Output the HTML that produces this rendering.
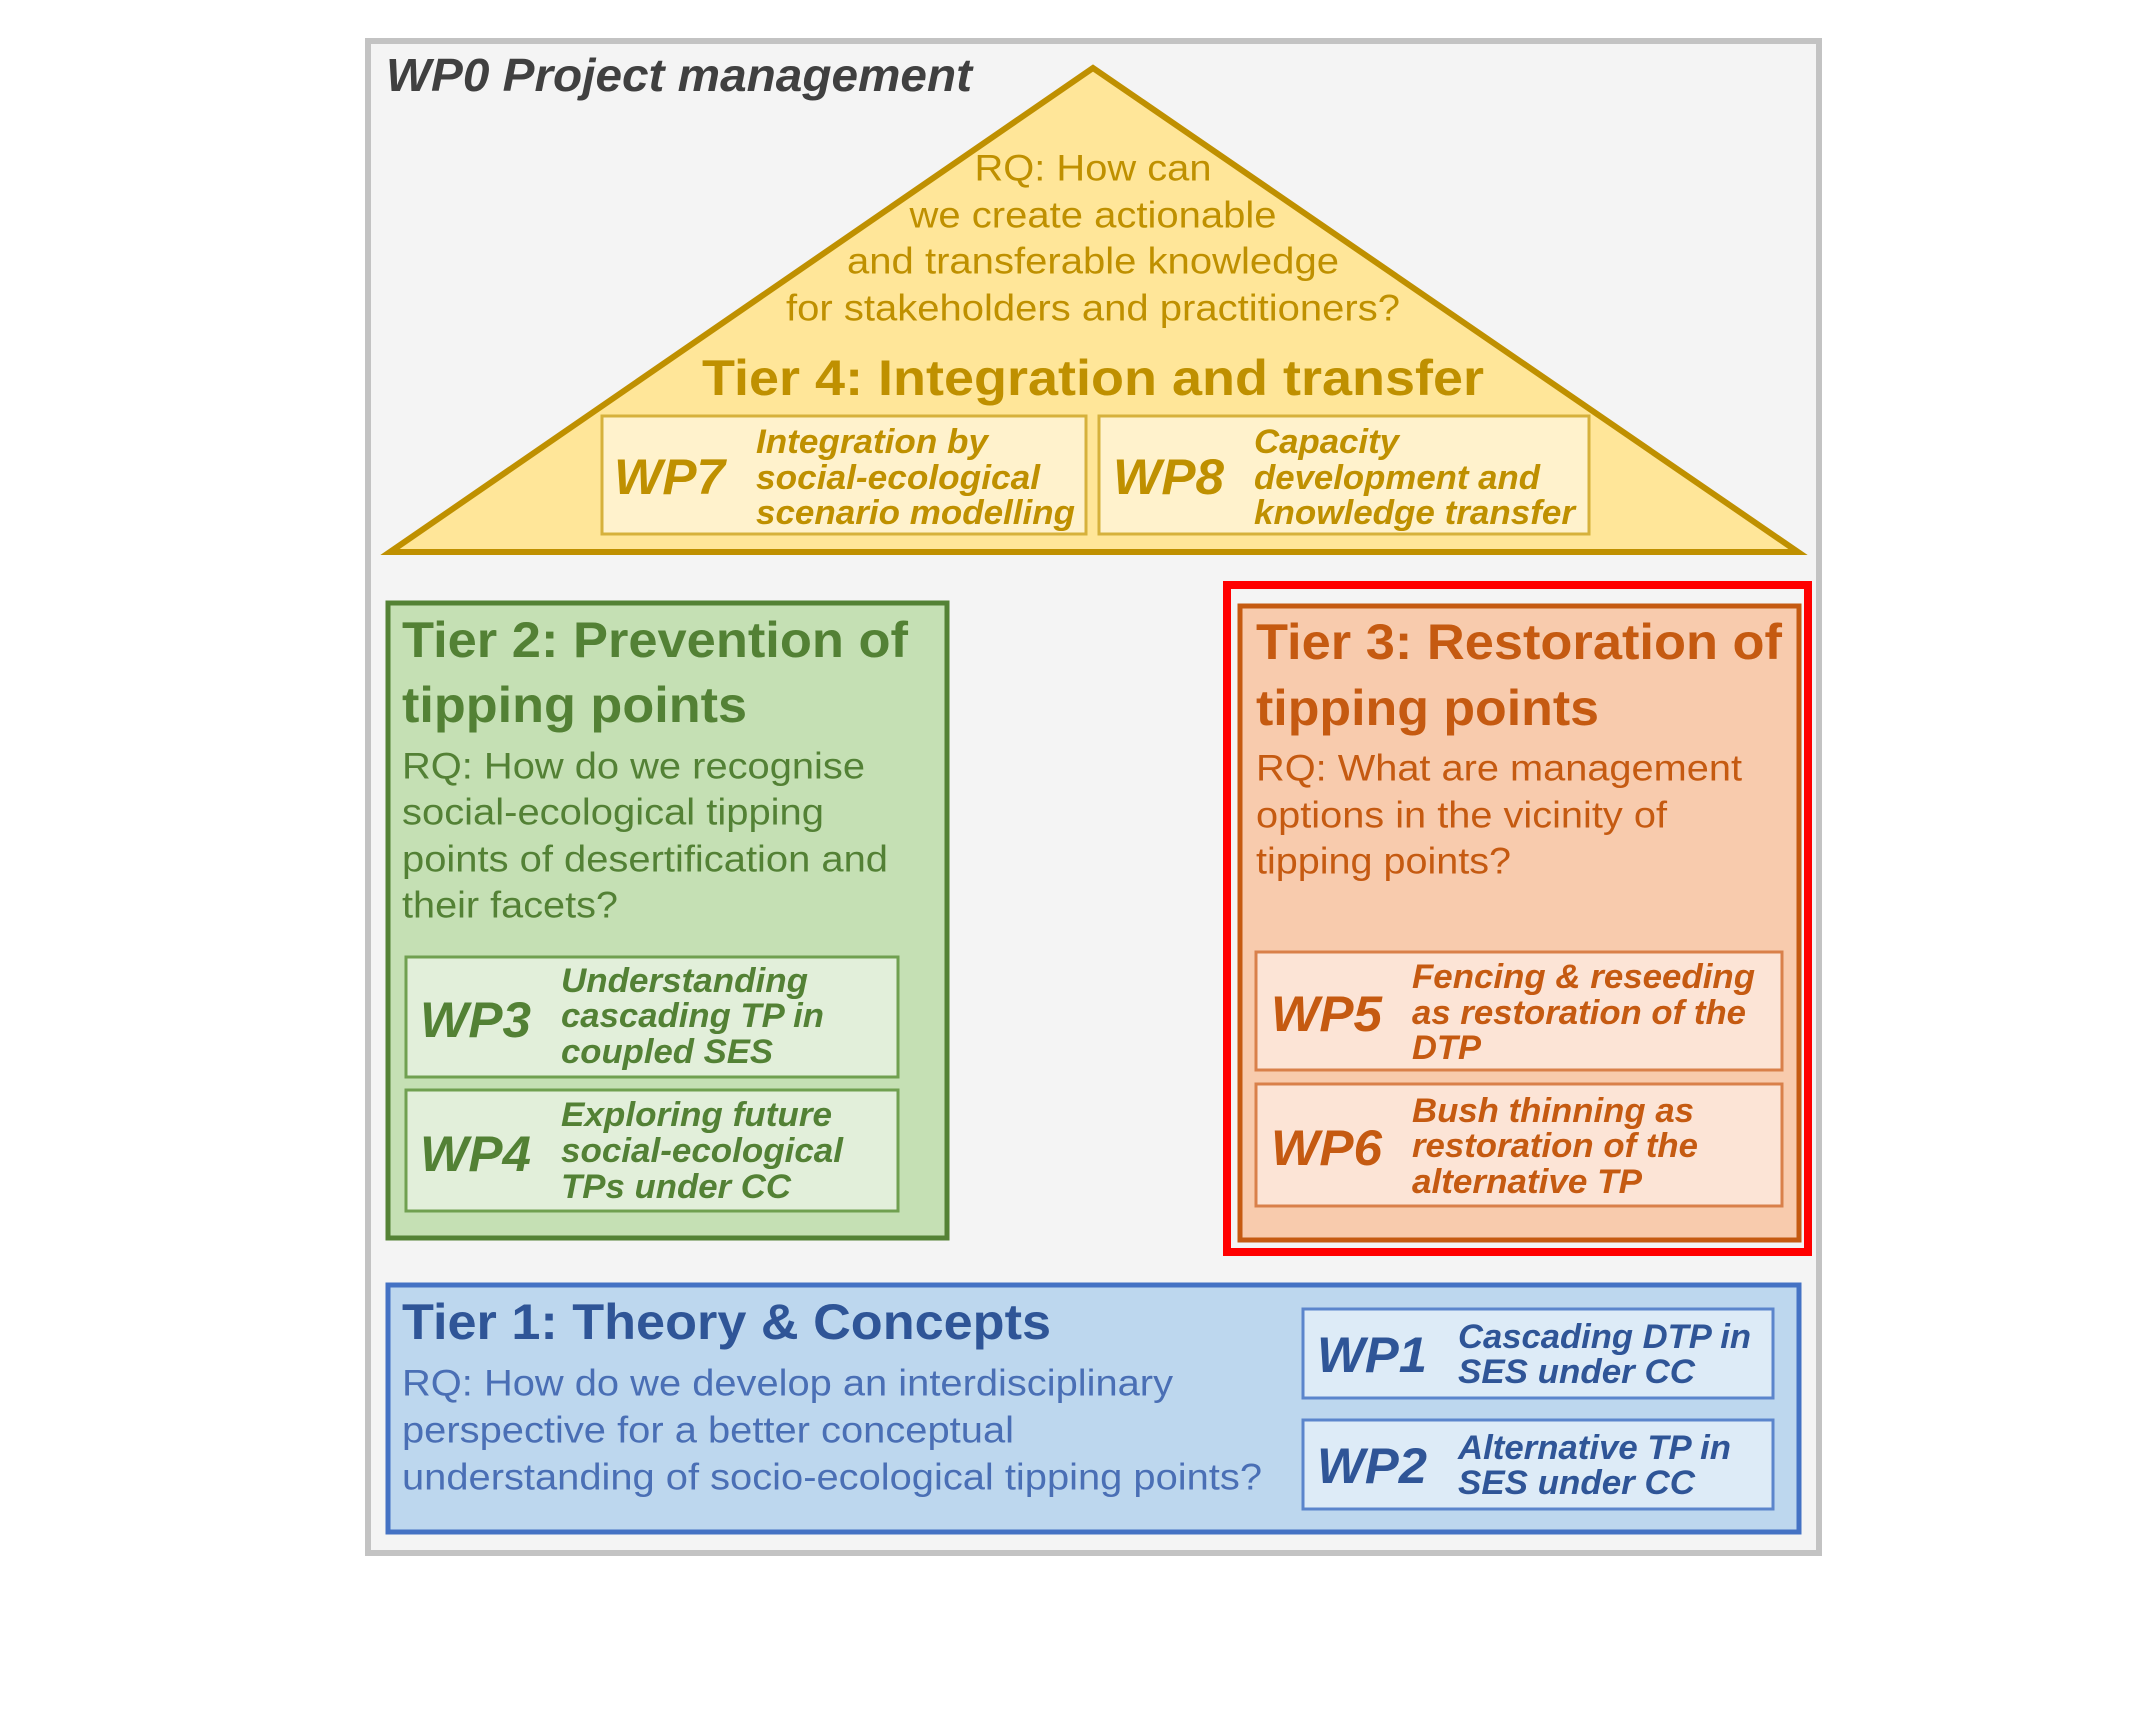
<!DOCTYPE html>
<html><head><meta charset="utf-8"><style>
html,body{margin:0;padding:0;background:#fff;width:2143px;height:1714px;overflow:hidden}
svg text{font-family:"Liberation Sans",sans-serif}
.b{font-weight:bold}.bi{font-weight:bold;font-style:italic}
</style></head><body>
<svg width="2143" height="1714" xmlns="http://www.w3.org/2000/svg">
<g dominant-baseline="central">
<rect x="368" y="41" width="1451" height="1512" fill="#f4f4f4" stroke="#c3c3c3" stroke-width="6"/>
<text x="386" y="75" class="bi" font-size="46" fill="#404040" textLength="586" lengthAdjust="spacingAndGlyphs">WP0 Project management</text>

<polygon points="1093,68 390,552 1798,552" fill="#ffe699" stroke="#bf9000" stroke-width="6" stroke-linejoin="miter"/>
<g fill="#bf9000" font-size="37" text-anchor="middle">
<text x="1093" y="168" textLength="237" lengthAdjust="spacingAndGlyphs">RQ: How can</text>
<text x="1093" y="215" textLength="367" lengthAdjust="spacingAndGlyphs">we create actionable</text>
<text x="1093" y="261" textLength="492" lengthAdjust="spacingAndGlyphs">and transferable knowledge</text>
<text x="1093" y="308" textLength="614" lengthAdjust="spacingAndGlyphs">for stakeholders and practitioners?</text>
<text x="1093" y="378" class="b" font-size="50" textLength="782" lengthAdjust="spacingAndGlyphs">Tier 4: Integration and transfer</text>
</g>
<rect x="602" y="416" width="484" height="118" fill="#fff2cc" stroke="#d6b13c" stroke-width="3"/>
<rect x="1099" y="416" width="490" height="118" fill="#fff2cc" stroke="#d6b13c" stroke-width="3"/>
<g fill="#bf9000" class="bi">
<text x="614" y="477" font-size="50" textLength="111" lengthAdjust="spacingAndGlyphs">WP7</text>
<text x="756" y="442" font-size="34" textLength="232" lengthAdjust="spacingAndGlyphs">Integration by</text>
<text x="756" y="478" font-size="34" textLength="284" lengthAdjust="spacingAndGlyphs">social-ecological</text>
<text x="756" y="513" font-size="34" textLength="319" lengthAdjust="spacingAndGlyphs">scenario modelling</text>
<text x="1113" y="477" font-size="50" textLength="111" lengthAdjust="spacingAndGlyphs">WP8</text>
<text x="1254" y="442" font-size="34" textLength="145" lengthAdjust="spacingAndGlyphs">Capacity</text>
<text x="1254" y="478" font-size="34" textLength="286" lengthAdjust="spacingAndGlyphs">development and</text>
<text x="1254" y="513" font-size="34" textLength="321" lengthAdjust="spacingAndGlyphs">knowledge transfer</text>
</g>

<rect x="388" y="603" width="559" height="635" fill="#c5e0b4" stroke="#548235" stroke-width="5"/>
<g fill="#538135">
<text x="402" y="640" class="b" font-size="50" textLength="506" lengthAdjust="spacingAndGlyphs">Tier 2: Prevention of</text>
<text x="402" y="705" class="b" font-size="50" textLength="345" lengthAdjust="spacingAndGlyphs">tipping points</text>
<text x="402" y="766" font-size="37" textLength="463" lengthAdjust="spacingAndGlyphs">RQ: How do we recognise</text>
<text x="402" y="812" font-size="37" textLength="422" lengthAdjust="spacingAndGlyphs">social-ecological tipping</text>
<text x="402" y="859" font-size="37" textLength="486" lengthAdjust="spacingAndGlyphs">points of desertification and</text>
<text x="402" y="905" font-size="37" textLength="216" lengthAdjust="spacingAndGlyphs">their facets?</text>
</g>
<rect x="406" y="957" width="492" height="120" fill="#e2efda" stroke="#70a050" stroke-width="3"/>
<rect x="406" y="1090" width="492" height="121" fill="#e2efda" stroke="#70a050" stroke-width="3"/>
<g fill="#538135" class="bi">
<text x="420" y="1020" font-size="50" textLength="111" lengthAdjust="spacingAndGlyphs">WP3</text>
<text x="561" y="981" font-size="34" textLength="247" lengthAdjust="spacingAndGlyphs">Understanding</text>
<text x="561" y="1016" font-size="34" textLength="263" lengthAdjust="spacingAndGlyphs">cascading TP in</text>
<text x="561" y="1052" font-size="34" textLength="212" lengthAdjust="spacingAndGlyphs">coupled SES</text>
<text x="420" y="1154" font-size="50" textLength="111" lengthAdjust="spacingAndGlyphs">WP4</text>
<text x="561" y="1115" font-size="34" textLength="271" lengthAdjust="spacingAndGlyphs">Exploring future</text>
<text x="561" y="1151" font-size="34" textLength="282" lengthAdjust="spacingAndGlyphs">social-ecological</text>
<text x="561" y="1187" font-size="34" textLength="230" lengthAdjust="spacingAndGlyphs">TPs under CC</text>
</g>

<rect x="1227" y="585" width="581" height="667" fill="none" stroke="#ff0000" stroke-width="8"/>
<rect x="1240" y="606" width="559" height="634" fill="#f8cbad" stroke="#c55a11" stroke-width="5"/>
<g fill="#c55a11">
<text x="1256" y="642" class="b" font-size="50" textLength="526" lengthAdjust="spacingAndGlyphs">Tier 3: Restoration of</text>
<text x="1256" y="708" class="b" font-size="50" textLength="343" lengthAdjust="spacingAndGlyphs">tipping points</text>
<text x="1256" y="768" font-size="37" textLength="486" lengthAdjust="spacingAndGlyphs">RQ: What are management</text>
<text x="1256" y="815" font-size="37" textLength="411" lengthAdjust="spacingAndGlyphs">options in the vicinity of</text>
<text x="1256" y="861" font-size="37" textLength="255" lengthAdjust="spacingAndGlyphs">tipping points?</text>
</g>
<rect x="1256" y="952" width="526" height="118" fill="#fce4d6" stroke="#d9804a" stroke-width="3"/>
<rect x="1256" y="1084" width="526" height="122" fill="#fce4d6" stroke="#d9804a" stroke-width="3"/>
<g fill="#c55a11" class="bi">
<text x="1271" y="1014" font-size="50" textLength="111" lengthAdjust="spacingAndGlyphs">WP5</text>
<text x="1412" y="977" font-size="34" textLength="343" lengthAdjust="spacingAndGlyphs">Fencing &amp; reseeding</text>
<text x="1412" y="1013" font-size="34" textLength="334" lengthAdjust="spacingAndGlyphs">as restoration of the</text>
<text x="1412" y="1048" font-size="34" textLength="69" lengthAdjust="spacingAndGlyphs">DTP</text>
<text x="1271" y="1148" font-size="50" textLength="111" lengthAdjust="spacingAndGlyphs">WP6</text>
<text x="1412" y="1111" font-size="34" textLength="282" lengthAdjust="spacingAndGlyphs">Bush thinning as</text>
<text x="1412" y="1146" font-size="34" textLength="286" lengthAdjust="spacingAndGlyphs">restoration of the</text>
<text x="1412" y="1182" font-size="34" textLength="230" lengthAdjust="spacingAndGlyphs">alternative TP</text>
</g>

<rect x="388" y="1285" width="1411" height="247" fill="#bdd7ee" stroke="#4472c4" stroke-width="5"/>
<g fill="#2f5597">
<text x="402" y="1322" class="b" font-size="50" textLength="649" lengthAdjust="spacingAndGlyphs">Tier 1: Theory &amp; Concepts</text>
<g fill="#4a6fb5">
<text x="402" y="1383" font-size="37" textLength="771" lengthAdjust="spacingAndGlyphs">RQ: How do we develop an interdisciplinary</text>
<text x="402" y="1430" font-size="37" textLength="612" lengthAdjust="spacingAndGlyphs">perspective for a better conceptual</text>
<text x="402" y="1477" font-size="37" textLength="860" lengthAdjust="spacingAndGlyphs">understanding of socio-ecological tipping points?</text>
</g>
</g>
<rect x="1303" y="1309" width="470" height="89" fill="#ddebf7" stroke="#5b85cc" stroke-width="3"/>
<rect x="1303" y="1420" width="470" height="89" fill="#ddebf7" stroke="#5b85cc" stroke-width="3"/>
<g fill="#2f5597" class="bi">
<text x="1317" y="1355" font-size="50" textLength="110" lengthAdjust="spacingAndGlyphs">WP1</text>
<text x="1458" y="1337" font-size="34" textLength="293" lengthAdjust="spacingAndGlyphs">Cascading DTP in</text>
<text x="1458" y="1372" font-size="34" textLength="237" lengthAdjust="spacingAndGlyphs">SES under CC</text>
<text x="1317" y="1466" font-size="50" textLength="110" lengthAdjust="spacingAndGlyphs">WP2</text>
<text x="1458" y="1448" font-size="34" textLength="273" lengthAdjust="spacingAndGlyphs">Alternative TP in</text>
<text x="1458" y="1483" font-size="34" textLength="237" lengthAdjust="spacingAndGlyphs">SES under CC</text>
</g>
</g>
</svg>
</body></html>
